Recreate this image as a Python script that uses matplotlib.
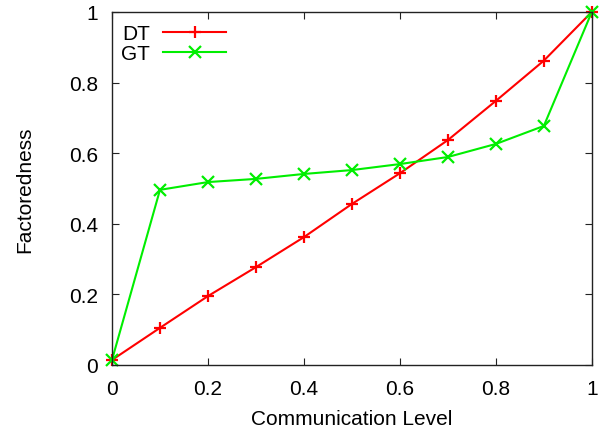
import matplotlib
matplotlib.use("Agg")
import matplotlib.pyplot as plt

# Communication level sweep and the factoredness of each method
comm_level = [0.0, 0.1, 0.2, 0.3, 0.4, 0.5, 0.6, 0.7, 0.8, 0.9, 1.0]
dt_factoredness = [0.014, 0.105, 0.195, 0.277, 0.362, 0.456, 0.543, 0.637, 0.748, 0.862, 1.0]
gt_factoredness = [0.014, 0.496, 0.518, 0.527, 0.541, 0.552, 0.569, 0.589, 0.626, 0.677, 1.0]

x_ticks = [0, 0.2, 0.4, 0.6, 0.8, 1]
x_tick_labels = ["0", "0.2", "0.4", "0.6", "0.8", "1"]
y_ticks = [0, 0.2, 0.4, 0.6, 0.8, 1]
y_tick_labels = ["0", "0.2", "0.4", "0.6", "0.8", "1"]

plt.rcParams["font.family"] = ["Liberation Sans", "DejaVu Sans"]

fig = plt.figure(figsize=(6.07, 4.31), dpi=100)
ax = fig.add_axes([0.1845, 0.151, 0.7905, 0.819])

ax.plot(comm_level, dt_factoredness, color="#ff0000", linewidth=1.5,
        marker="+", markersize=8.5, markeredgewidth=1.6, label="DT", clip_on=False)
ax.plot(comm_level, gt_factoredness, color="#00ee00", linewidth=1.5,
        marker="x", markersize=8, markeredgewidth=1.6, label="GT", clip_on=False)

ax.set_xlim(0, 1)
ax.set_ylim(0, 1)
ax.set_xticks(x_ticks)
ax.set_xticklabels(x_tick_labels)
ax.set_yticks(y_ticks)
ax.set_yticklabels(y_tick_labels)
ax.tick_params(direction="in", top=True, right=True, length=5, width=0.8,
               labelsize=15, pad=10, colors="#222222", labelcolor="black")
for side in ax.spines.values():
    side.set_linewidth(1.0)
    side.set_color("#222222")

ax.set_xlabel("Communication Level", fontsize=15, labelpad=8)
ax.set_ylabel("Factoredness", fontsize=15, labelpad=25)

leg = ax.legend(loc="upper left", frameon=False, fontsize=15, handlelength=3.0,
                markerfirst=False, borderaxespad=0.0, borderpad=0.25,
                handletextpad=0.65, labelspacing=0.05,
                bbox_to_anchor=(0.008, 0.98))

fig.savefig("out.png", dpi=100)
